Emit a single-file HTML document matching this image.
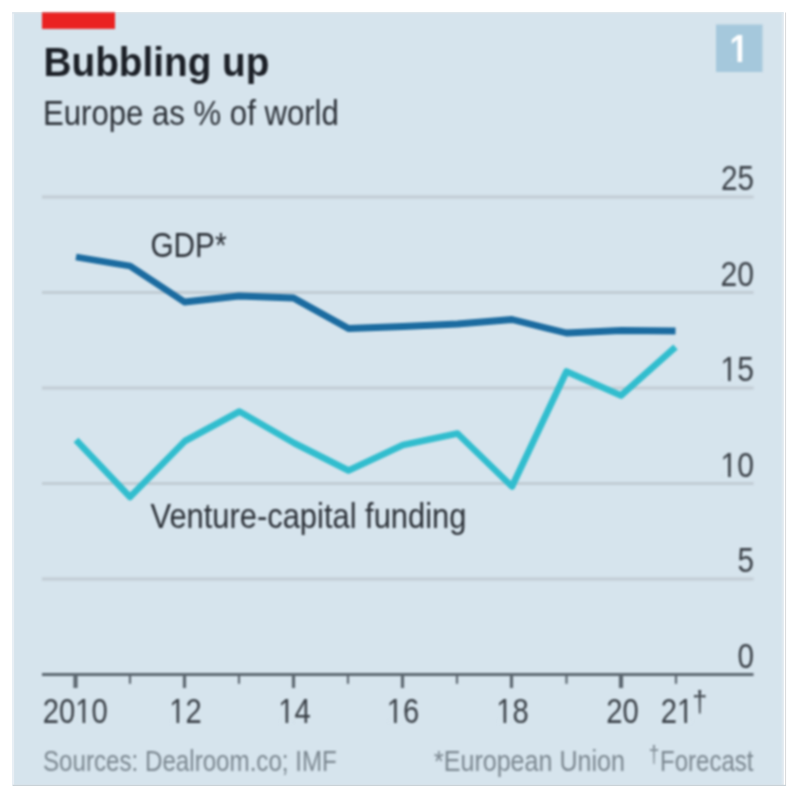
<!DOCTYPE html>
<html lang="en">
<head>
<meta charset="utf-8">
<title>Bubbling up</title>
<style>
  html, body { margin: 0; padding: 0; background: #ffffff; }
  body { width: 800px; height: 800px; overflow: hidden; }
  svg { display: block; }
  svg text { font-family: "Liberation Sans", sans-serif; }
  .soft { filter: blur(0.8px); }
  .edge { filter: blur(0.45px); }
</style>
</head>
<body>
<svg width="800" height="800" viewBox="0 0 800 800">
  <rect x="0" y="0" width="800" height="800" fill="#ffffff"/>
  <!-- panel -->
  <g class="edge">
    <rect x="12.2" y="12.3" width="771.3" height="772.6" fill="#d6e4ed"/>
    <rect x="12.2" y="12.3" width="1.9" height="772.6" fill="#e9eff5"/>
    <rect x="12.2" y="12.3" width="771.3" height="1.3" fill="#dde5ec"/>
    <rect x="781.6" y="12.3" width="1.9" height="772.6" fill="#dfe8ef"/>
  </g>
  <!-- frame lines (right and bottom) -->
  <rect x="785" y="12.5" width="1.05" height="773.5" fill="#dadbdc"/>
  <rect x="12.5" y="784.85" width="773.5" height="1.1" fill="#c7d0d6"/>
  <g class="soft">

  <!-- red tag -->
  <rect x="42" y="12.4" width="73" height="16.5" fill="#ea2221"/>

  <!-- badge -->
  <rect x="716" y="24.5" width="46.5" height="47.5" fill="#a5c8dc"/>

  <!-- gridlines -->
  <g stroke="#c1ccd4" stroke-width="2.8">
    <line x1="42" y1="197" x2="753.5" y2="197"/>
    <line x1="42" y1="292.5" x2="753.5" y2="292.5"/>
    <line x1="42" y1="388" x2="753.5" y2="388"/>
    <line x1="42" y1="483.5" x2="753.5" y2="483.5"/>
    <line x1="42" y1="579" x2="753.5" y2="579"/>
  </g>

  <!-- series -->
  <polyline fill="none" stroke="#31bdce" stroke-width="6.6" stroke-linejoin="round" stroke-linecap="butt"
    points="76,440 130,497 185,441 239.5,411.5 294,443 348.5,470.5 403,445 457.5,433.5 512,486.5 566.5,371.5 621,395.5 675.5,347"/>
  <polyline fill="none" stroke="#1b6ba0" stroke-width="6.8" stroke-linejoin="round" stroke-linecap="butt"
    points="76,257 130,266 184.5,302 239,296 293.5,298 348.5,328.5 403,326.5 457.5,324 512,319.5 566.5,333 621,330.5 675.5,331"/>

  <!-- x axis -->
  <line x1="42" y1="674.5" x2="753.5" y2="674.5" stroke="#5c6770" stroke-width="3.2"/>
  <g stroke="#5c6770" stroke-width="3.2">
    <line x1="75.5" y1="674" x2="75.5" y2="688" stroke-width="4.2"/>
    <line x1="184.5" y1="674" x2="184.5" y2="688"/>
    <line x1="293.5" y1="674" x2="293.5" y2="688"/>
    <line x1="402.5" y1="674" x2="402.5" y2="688"/>
    <line x1="511.5" y1="674" x2="511.5" y2="688"/>
    <line x1="621" y1="674" x2="621" y2="688" stroke-width="4.2"/>
  </g>
  <g stroke="#5c6770" stroke-width="2.2">
    <line x1="130" y1="674" x2="130" y2="683.8"/>
    <line x1="239" y1="674" x2="239" y2="683.8"/>
    <line x1="348" y1="674" x2="348" y2="683.8"/>
    <line x1="457" y1="674" x2="457" y2="683.8"/>
    <line x1="566.5" y1="674" x2="566.5" y2="683.8"/>
    <line x1="676" y1="674" x2="676" y2="683.8"/>
  </g>

  <!-- text -->
  <text transform="translate(43.50,76.00) scale(0.9689,1)" font-size="40" font-weight="bold" fill="#1b1f26">Bubbling up</text>
  <text transform="translate(43.00,125.20) scale(0.8898,1)" font-size="35" fill="#2b3037">Europe as % of world</text>
  <text transform="translate(729.50,62.00) scale(0.8760,1)" font-size="39" font-weight="bold" fill="#ffffff">1</text>
  <g transform="translate(729.50,62.00) scale(0.8760,1)" fill="#a5c8dc"><rect x="1.90" y="-4.38" width="7.20" height="4.88"/><rect x="14.45" y="-4.38" width="6.68" height="4.88"/></g>
  <text transform="translate(721.00,190.00) scale(0.8477,1)" font-size="35" fill="#3a4047">25</text>
  <text transform="translate(720.50,285.50) scale(0.8605,1)" font-size="35" fill="#3a4047">20</text>
  <text transform="translate(720.50,381.00) scale(0.8605,1)" font-size="35" fill="#3a4047">15</text>
  <g transform="translate(720.50,381.00) scale(0.8605,1)" fill="#d6e4ed"><rect x="2.05" y="-3.01" width="6.75" height="3.51"/><rect x="11.89" y="-3.01" width="6.39" height="3.51"/></g>
  <text transform="translate(720.50,476.50) scale(0.8605,1)" font-size="35" fill="#3a4047">10</text>
  <g transform="translate(720.50,476.50) scale(0.8605,1)" fill="#d6e4ed"><rect x="2.05" y="-3.01" width="6.75" height="3.51"/><rect x="11.89" y="-3.01" width="6.39" height="3.51"/></g>
  <text transform="translate(737.50,572.00) scale(0.8477,1)" font-size="35" fill="#3a4047">5</text>
  <text transform="translate(737.50,667.50) scale(0.8477,1)" font-size="35" fill="#3a4047">0</text>
  <text transform="translate(150.50,256.50) scale(0.8495,1)" font-size="35" fill="#2b3037">GDP*</text>
  <text transform="translate(150.50,527.80) scale(0.8702,1)" font-size="35.5" fill="#2b3037">Venture-capital funding</text>
  <text transform="translate(42.80,722.80) scale(0.8348,1)" font-size="35" fill="#3a4047">2010</text>
  <g transform="translate(42.80,722.80) scale(0.8348,1)" fill="#d6e4ed"><rect x="40.98" y="-3.01" width="6.75" height="3.51"/><rect x="50.83" y="-3.01" width="6.39" height="3.51"/></g>
  <text transform="translate(169.25,722.80) scale(0.8348,1)" font-size="35" fill="#3a4047">12</text>
  <g transform="translate(169.25,722.80) scale(0.8348,1)" fill="#d6e4ed"><rect x="2.05" y="-3.01" width="6.75" height="3.51"/><rect x="11.89" y="-3.01" width="6.39" height="3.51"/></g>
  <text transform="translate(278.25,722.80) scale(0.8348,1)" font-size="35" fill="#3a4047">14</text>
  <g transform="translate(278.25,722.80) scale(0.8348,1)" fill="#d6e4ed"><rect x="2.05" y="-3.01" width="6.75" height="3.51"/><rect x="11.89" y="-3.01" width="6.39" height="3.51"/></g>
  <text transform="translate(386.75,722.80) scale(0.8348,1)" font-size="35" fill="#3a4047">16</text>
  <g transform="translate(386.75,722.80) scale(0.8348,1)" fill="#d6e4ed"><rect x="2.05" y="-3.01" width="6.75" height="3.51"/><rect x="11.89" y="-3.01" width="6.39" height="3.51"/></g>
  <text transform="translate(496.25,722.80) scale(0.8348,1)" font-size="35" fill="#3a4047">18</text>
  <g transform="translate(496.25,722.80) scale(0.8348,1)" fill="#d6e4ed"><rect x="2.05" y="-3.01" width="6.75" height="3.51"/><rect x="11.89" y="-3.01" width="6.39" height="3.51"/></g>
  <text transform="translate(606.25,722.80) scale(0.8348,1)" font-size="35" fill="#3a4047">20</text>
  <text transform="translate(660.80,722.80) scale(0.8348,1)" font-size="35" fill="#3a4047">21</text>
  <g transform="translate(660.80,722.80) scale(0.8348,1)" fill="#d6e4ed"><rect x="21.52" y="-3.01" width="6.75" height="3.51"/><rect x="31.36" y="-3.01" width="6.39" height="3.51"/></g>
  <text transform="translate(692.30,712.30) scale(0.9300,1)" font-size="29" fill="#3a4047">†</text>
  <text transform="translate(43.00,770.80) scale(0.8052,1)" font-size="30" fill="#7b8790">Sources: Dealroom.co; IMF</text>
  <text transform="translate(434.00,770.80) scale(0.8359,1)" font-size="30" fill="#7b8790">*European Union</text>
  <text transform="translate(648.80,763.20) scale(0.7867,1)" font-size="24" fill="#7b8790">†</text>
  <text transform="translate(660.00,770.80) scale(0.8012,1)" font-size="30" fill="#7b8790">Forecast</text>
  </g>
</svg>
</body>
</html>
